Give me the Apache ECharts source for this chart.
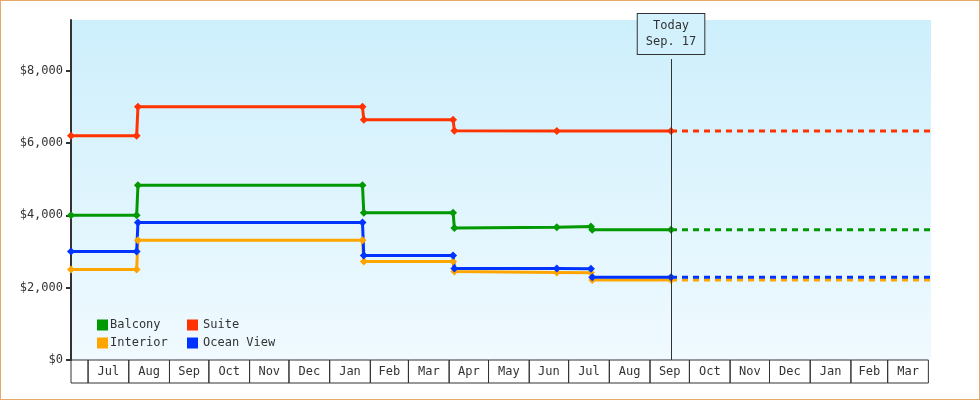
<!DOCTYPE html>
<html>
<head>
<meta charset="utf-8">
<script src="https://cdn.jsdelivr.net/npm/echarts@6/dist/echarts.min.js"></script>
<style>
  html, body { margin: 0; padding: 0; background: #fff; }
  #chart { width: 978px; height: 398px; border: 1px solid #e8a868; }
</style>
</head>
<body>
<div id="chart"></div>
<script>
// price history, [date, price]
var balcony = [['2023-06-18', 4000], ['2023-08-07', 4000], ['2023-08-08', 4830], ['2024-01-26', 4830], ['2024-01-27', 4070],
    ['2024-04-04', 4070], ['2024-04-05', 3650], ['2024-06-22', 3670], ['2024-07-18', 3690], ['2024-07-19', 3600], ['2024-09-17', 3600]];
var suite = [['2023-06-18', 6200], ['2023-08-07', 6200], ['2023-08-08', 7000], ['2024-01-26', 7000], ['2024-01-27', 6640],
    ['2024-04-04', 6640], ['2024-04-05', 6340], ['2024-06-22', 6330], ['2024-09-17', 6330]];
var interior = [['2023-06-18', 2500], ['2023-08-07', 2500], ['2023-08-08', 3310], ['2024-01-26', 3310], ['2024-01-27', 2720],
    ['2024-04-04', 2720], ['2024-04-05', 2450], ['2024-06-22', 2420], ['2024-07-18', 2410], ['2024-07-19', 2210], ['2024-09-17', 2210]];
var oceanView = [['2023-06-18', 3000], ['2023-08-07', 3000], ['2023-08-08', 3800], ['2024-01-26', 3800], ['2024-01-27', 2890],
    ['2024-04-04', 2890], ['2024-04-05', 2530], ['2024-06-22', 2530], ['2024-07-18', 2520], ['2024-07-19', 2290], ['2024-09-17', 2290]];

var today = '2024-09-17';
var rangeStart = '2023-06-18';
var rangeEnd = '2025-04-03';
var monthLabels = ['', 'Jul', 'Aug', 'Sep', 'Oct', 'Nov', 'Dec', 'Jan', 'Feb', 'Mar', 'Apr', 'May', 'Jun',
    'Jul', 'Aug', 'Sep', 'Oct', 'Nov', 'Dec', 'Jan', 'Feb', 'Mar'];
var yTicks = [0, 2000, 4000, 6000, 8000];

var colors = { Balcony: '#009900', Suite: '#ff3300', Interior: '#ffa500', 'Ocean View': '#0033ff' };
var font = 'DejaVu Sans Mono';

// month cells under the plot: [start, end, label]
var monthCells = [];
monthLabels.forEach(function (m, i) {
    var s = i === 0 ? new Date(rangeStart) : new Date(Date.UTC(2023, 5 + i, 1));
    var e = new Date(Date.UTC(2023, 6 + i, 1));
    monthCells.push([s.getTime(), e.getTime(), m]);
});

function lineSeries(name, data) {
    return {
        name: name, type: 'line', data: data,
        symbol: 'diamond', symbolSize: 8, showSymbol: true,
        lineStyle: { width: 3, color: colors[name] },
        itemStyle: { color: colors[name] },
        z: 3
    };
}
function futureSeries(name, data) {
    var last = data[data.length - 1][1];
    return {
        name: name + ' future', type: 'line', data: [[today, last], [rangeEnd, last]],
        symbol: 'none', lineStyle: { width: 3, type: [6, 5], color: colors[name] }, z: 2, silent: true
    };
}

var chart = echarts.init(document.getElementById('chart'));
var suiteSeries = lineSeries('Suite', suite);
suiteSeries.markLine = {
    symbol: 'none', silent: true,
    lineStyle: { color: '#333', width: 1, type: 'solid' },
    label: {
        position: 'end', formatter: 'Today\nSep. 17', color: '#333', fontFamily: font, fontSize: 12,
        lineHeight: 16, backgroundColor: '#d2f1fc', borderColor: '#333', borderWidth: 1, padding: [4, 8]
    },
    data: [[{ coord: [today, 0] }, { coord: [today, 8320] }]]
};

chart.setOption({
    animation: false,
    textStyle: { fontFamily: font },
    grid: {
        left: 70, right: 48, top: 19, bottom: 39, show: true, borderWidth: 0,
        backgroundColor: new echarts.graphic.LinearGradient(0, 0, 0, 1, [
            { offset: 0, color: '#cdeffc' }, { offset: 1, color: '#f0faff' }])
    },
    legend: [{
        data: ['Balcony', 'Interior'], orient: 'vertical', left: 91, top: 313, itemGap: 6,
        itemWidth: 11, itemHeight: 11, icon: 'rect', textStyle: { fontFamily: font, fontSize: 12, color: '#333', padding: [0, 0, 0, -3] }
    }, {
        data: ['Suite', 'Ocean View'], orient: 'vertical', left: 181, top: 313, itemGap: 6,
        itemWidth: 11, itemHeight: 11, icon: 'rect', textStyle: { fontFamily: font, fontSize: 12, color: '#333' }
    }],
    xAxis: {
        type: 'time', min: rangeStart, max: rangeEnd,
        axisLine: { show: false }, axisTick: { show: false }, axisLabel: { show: false }, splitLine: { show: false }
    },
    yAxis: {
        type: 'value', min: 0, max: 9400, interval: 2000,
        axisLine: { show: true, lineStyle: { color: '#333', width: 2 } },
        axisTick: { show: true, length: 5, lineStyle: { color: '#333', width: 2 } },
        axisLabel: {
            color: '#333', fontSize: 12, fontFamily: font, showMaxLabel: false,
            formatter: function (v) { return yTicks.indexOf(v) < 0 ? '' : '$' + v.toLocaleString('en-US'); }
        },
        splitLine: { show: false }
    },
    series: [
        lineSeries('Balcony', balcony), suiteSeries, lineSeries('Interior', interior), lineSeries('Ocean View', oceanView),
        futureSeries('Balcony', balcony), futureSeries('Suite', suite), futureSeries('Interior', interior), futureSeries('Ocean View', oceanView),
        {
            type: 'custom', data: monthCells, clip: false, silent: true, z: 1,
            renderItem: function (params, api) {
                var x0 = api.coord([api.value(0), 0]);
                var x1 = api.coord([api.value(1), 0]);
                var y = x0[1];
                return {
                    type: 'group', children: [{
                        type: 'rect', shape: { x: x0[0], y: y, width: x1[0] - x0[0], height: 23 },
                        style: { fill: null, stroke: '#333', lineWidth: 1 }
                    }, {
                        type: 'text', x: (x0[0] + x1[0]) / 2, y: y + 12,
                        style: { text: monthLabels[params.dataIndex], fill: '#333', font: '12px ' + font, align: 'center', verticalAlign: 'middle' }
                    }]
                };
            }
        }
    ]
});
</script>
</body>
</html>
